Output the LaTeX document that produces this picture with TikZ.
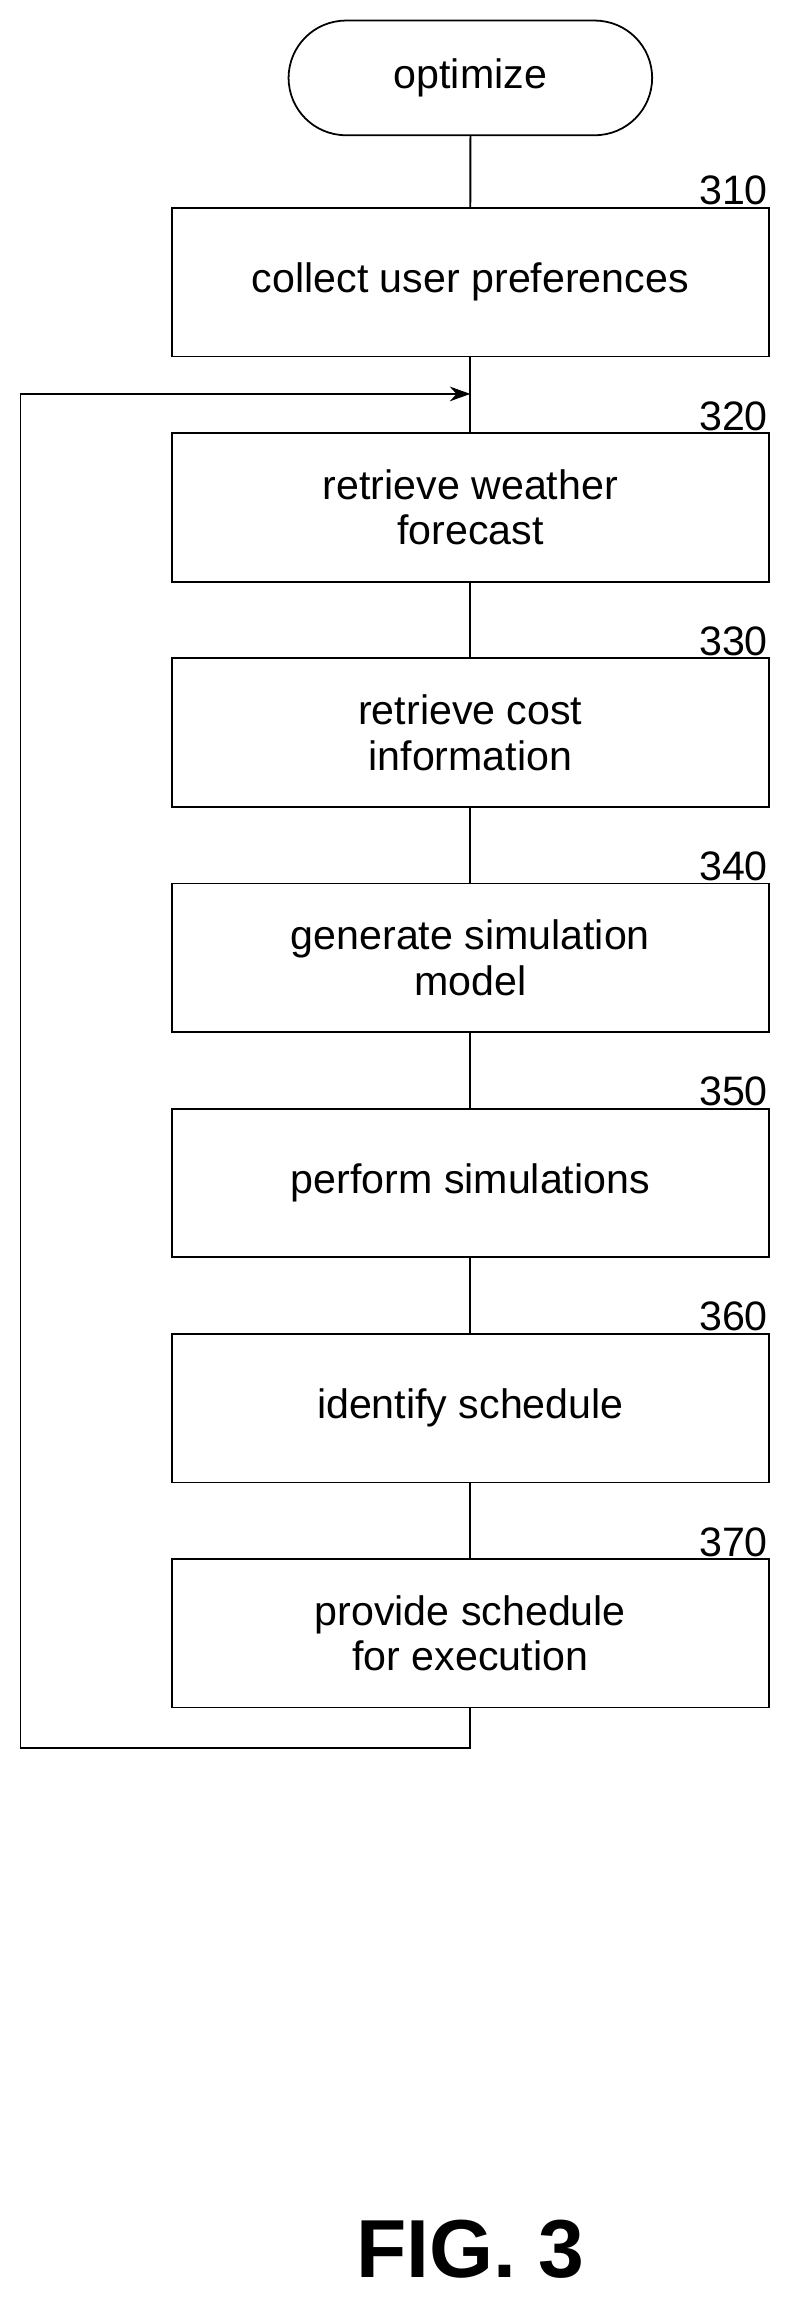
\documentclass[tikz,border=0pt]{standalone}
\usepackage{fontspec}
\setmainfont{Liberation Sans}
\usetikzlibrary{shapes.misc, positioning, arrows.meta}

\begin{document}
\begin{tikzpicture}[
    x=1pt, y=1pt,
    >={Stealth[length=14pt, width=10pt]},
    every node/.style={align=center, font=\fontsize{28}{31}\selectfont},
    stepbox/.style={draw, line width=1.2pt, minimum width=406pt, minimum height=101pt},
    num/.style={anchor=south east, inner sep=1pt},
    line/.style={line width=1.2pt}
]
\useasboundingbox (0,0) rectangle (540,-1577);

% Start
\node[draw, line width=1.2pt, rounded rectangle, minimum width=254pt, minimum height=78pt] (start) at (320,-53) {optimize};

% Schritte
\node[stepbox] (s310) at (320,-192) {collect user preferences};
\node[stepbox, below=51pt of s310] (s320) {retrieve weather\\forecast};
\node[stepbox, below=51pt of s320] (s330) {retrieve cost\\information};
\node[stepbox, below=51pt of s330] (s340) {generate simulation\\model};
\node[stepbox, below=51pt of s340] (s350) {perform simulations};
\node[stepbox, below=51pt of s350] (s360) {identify schedule};
\node[stepbox, below=51pt of s360] (s370) {provide schedule\\for execution};

% Nummern
\foreach \n in {310,320,330,340,350,360,370}
    \node[num] at (s\n.north east) {\n};

% Verbindungen
\draw[line] (start) -- (s310);
\draw[line] (s310) -- (s320);
\draw[line] (s320) -- (s330);
\draw[line] (s330) -- (s340);
\draw[line] (s340) -- (s350);
\draw[line] (s350) -- (s360);
\draw[line] (s360) -- (s370);

% Rueckfuehrung
\coordinate (join) at (320,-268);
\draw[line, ->] (s370.south) -- ++(0,-27) -| (14,-268) -- (join);

% Titel
\node[font=\fontsize{56}{60}\selectfont\bfseries] (fig) at (320,-1530) {FIG. 3};
\end{tikzpicture}
\end{document}
